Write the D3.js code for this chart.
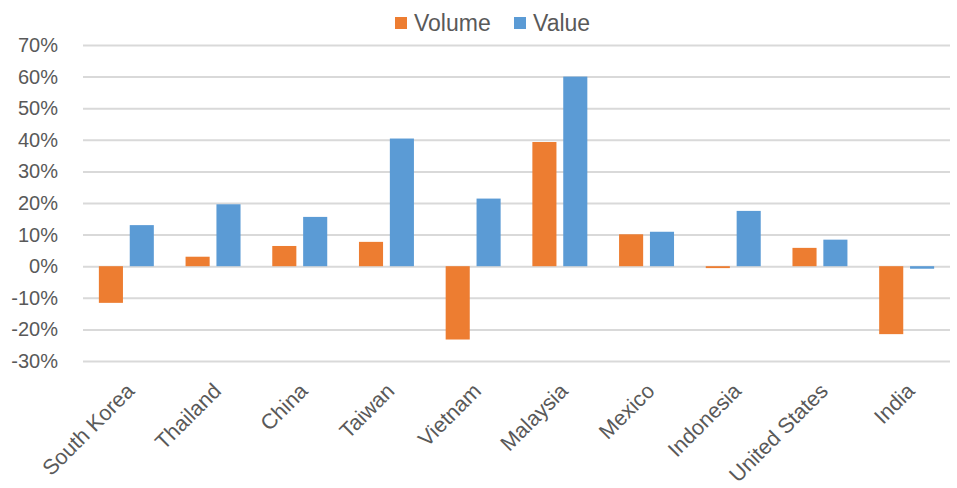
<!DOCTYPE html>
<html>
<head>
<meta charset="utf-8">
<script src="https://cdn.jsdelivr.net/npm/d3@7"></script>
<style>
  html, body { margin: 0; padding: 0; background: #ffffff; }
  svg { display: block; font-family: "Liberation Sans", Arial, sans-serif; }
</style>
</head>
<body>
<svg id="chart" width="957" height="488"></svg>
<script>
// Year-on-year change by trading partner
const categories = ["South Korea", "Thailand", "China", "Taiwan", "Vietnam",
                    "Malaysia", "Mexico", "Indonesia", "United States", "India"];
const volume = [-11.6, 3.0, 6.4, 7.7, -23.2, 39.3, 10.1, -0.6, 5.8, -21.5];
const value  = [13.0, 19.6, 15.6, 40.4, 21.4, 60.0, 10.9, 17.5, 8.4, -0.8];
const seriesNames = ["Volume", "Value"];
const seriesColors = ["#ED7D31", "#5B9BD5"];
const yTicks = [-30, -20, -10, 0, 10, 20, 30, 40, 50, 60, 70];

const svg = d3.select("#chart");
const plotLeft = 83, plotRight = 950, plotTop = 45, plotBottom = 361;
const textColor = "#595959";

const y = d3.scaleLinear().domain([-30, 70]).range([plotBottom, plotTop]);
const x0 = d3.scaleBand().domain(categories).range([plotLeft, plotRight])
  .paddingInner(0.366).paddingOuter(0.183);
const x1 = d3.scaleBand().domain(seriesNames).range([0, x0.bandwidth()])
  .paddingInner(0.22);

// Horizontal gridlines and percentage labels
const yAxis = d3.axisLeft(y).tickValues(yTicks)
  .tickSize(-(plotRight - plotLeft)).tickPadding(25)
  .tickFormat(d => d + "%");
const gy = svg.append("g").attr("transform", `translate(${plotLeft},0)`).call(yAxis);
gy.select(".domain").remove();
gy.selectAll(".tick line").attr("stroke", "#d9d9d9").attr("stroke-width", 2);
gy.selectAll(".tick text").attr("fill", textColor)
  .style("font-size", "20px").attr("x", 58 - plotLeft);

// Bars
const rows = categories.map((c, i) => ({ c, vals: [volume[i], value[i]] }));
const groups = svg.append("g").selectAll("g").data(rows).join("g")
  .attr("transform", d => `translate(${x0(d.c)},0)`);
groups.selectAll("rect")
  .data(d => d.vals.map((v, k) => ({ name: seriesNames[k], v, k })))
  .join("rect")
  .attr("x", d => x1(d.name))
  .attr("width", x1.bandwidth())
  .attr("y", d => y(Math.max(0, d.v)))
  .attr("height", d => Math.max(1.5, Math.abs(y(d.v) - y(0))))
  .attr("fill", d => seriesColors[d.k]);

// Rotated category labels
const xAxis = d3.axisBottom(x0).tickSize(0).tickPadding(0);
const gx = svg.append("g").attr("transform", `translate(0,${plotBottom + 20})`).call(xAxis);
gx.select(".domain").remove();
gx.selectAll(".tick text")
  .attr("fill", textColor)
  .style("font-size", "21.5px")
  .attr("text-anchor", "end")
  .attr("dy", "0.35em")
  .attr("transform", "translate(4,6) rotate(-45)");

// Legend
const legend = svg.append("g");
const legendItems = [
  { name: seriesNames[0], color: seriesColors[0], x: 395 },
  { name: seriesNames[1], color: seriesColors[1], x: 514 }
];
legendItems.forEach(it => {
  legend.append("rect").attr("x", it.x).attr("y", 17)
    .attr("width", 12).attr("height", 12).attr("fill", it.color);
  legend.append("text").attr("x", it.x + 19).attr("y", 23)
    .attr("dy", "0.35em").attr("fill", textColor)
    .style("font-size", "23px").text(it.name);
});
</script>
</body>
</html>
